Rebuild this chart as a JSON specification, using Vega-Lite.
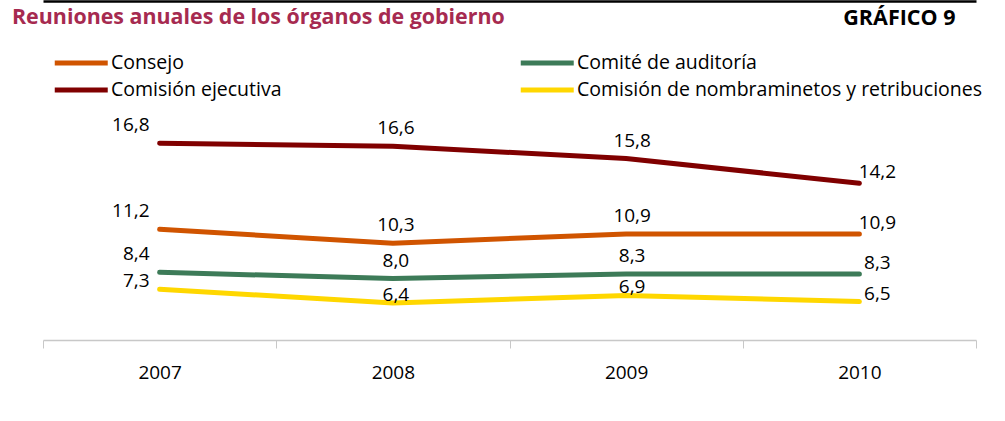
{
  "$schema": "https://vega.github.io/schema/vega-lite/v6.json",
  "width": 933,
  "height": 246,
  "autosize": {"type": "none"},
  "padding": {"left": 43, "top": 94, "right": 29, "bottom": 81},
  "background": "white",
  "config": {
    "view": {"stroke": null},
    "font": "Open Sans",
    "locale": {"number": {"decimal": ",", "thousands": ".", "grouping": [3], "currency": ["", " €"]}}
  },
  "title": {
    "text": "Reuniones anuales de los órganos de gobierno",
    "anchor": "start",
    "frame": "group",
    "color": "#A62A50",
    "fontSize": 21.4,
    "fontWeight": "bold",
    "font": "Open Sans",
    "offset": 0,
    "dx": -31,
    "dy": 27
  },
  "data": {
    "values": [
      {"year": "2007", "serie": "Consejo", "value": 11.2},
      {"year": "2008", "serie": "Consejo", "value": 10.3},
      {"year": "2009", "serie": "Consejo", "value": 10.9},
      {"year": "2010", "serie": "Consejo", "value": 10.9},
      {"year": "2007", "serie": "Comisión ejecutiva", "value": 16.8},
      {"year": "2008", "serie": "Comisión ejecutiva", "value": 16.6},
      {"year": "2009", "serie": "Comisión ejecutiva", "value": 15.8},
      {"year": "2010", "serie": "Comisión ejecutiva", "value": 14.2},
      {"year": "2007", "serie": "Comité de auditoría", "value": 8.4},
      {"year": "2008", "serie": "Comité de auditoría", "value": 8.0},
      {"year": "2009", "serie": "Comité de auditoría", "value": 8.3},
      {"year": "2010", "serie": "Comité de auditoría", "value": 8.3},
      {"year": "2007", "serie": "Comisión de nombraminetos y retribuciones", "value": 7.3},
      {"year": "2008", "serie": "Comisión de nombraminetos y retribuciones", "value": 6.4},
      {"year": "2009", "serie": "Comisión de nombraminetos y retribuciones", "value": 6.9},
      {"year": "2010", "serie": "Comisión de nombraminetos y retribuciones", "value": 6.5}
    ]
  },
  "layer": [
    {
      "mark": {"type": "line", "strokeWidth": 5, "strokeCap": "round", "strokeJoin": "round"},
      "encoding": {
        "x": {
          "field": "year",
          "type": "ordinal",
          "bandPosition": 0.5,
          "scale": {"type": "band", "paddingInner": 0, "paddingOuter": 0},
          "axis": {
            "orient": "bottom",
            "title": null,
            "tickBand": "extent",
            "domainColor": "#c8c8c8",
            "domainWidth": 1.5,
            "tickColor": "#c8c8c8",
            "tickWidth": 1,
            "tickSize": 8,
            "labelAngle": 0,
            "labelFontSize": 19,
            "labelFont": "Open Sans",
            "labelColor": "#000000",
            "labelPadding": 15,
            "grid": false
          }
        },
        "y": {
          "field": "value",
          "type": "quantitative",
          "scale": {"domain": [4, 20], "nice": false, "zero": false},
          "axis": {
            "orient": "right",
            "labels": false,
            "ticks": false,
            "domain": false,
            "grid": false,
            "title": "GRÁFICO 9",
            "titleAngle": 0,
            "titleAlign": "right",
            "titleBaseline": "middle",
            "titleX": -21,
            "titleY": -76,
            "titleFontSize": 21.5,
            "titleFont": "Open Sans",
            "titleFontWeight": "bold",
            "titleColor": "#000000"
          }
        },
        "color": {
          "field": "serie",
          "type": "nominal",
          "scale": {
            "domain": ["Consejo", "Comisión ejecutiva", "Comité de auditoría", "Comisión de nombraminetos y retribuciones"],
            "range": ["#D05400", "#800000", "#3D7B58", "#FFD700"]
          },
          "legend": {
            "title": null,
            "orient": "none",
            "legendX": 9,
            "legendY": -47,
            "columns": 2,
            "columnPadding": 228,
            "rowPadding": 1,
            "symbolType": "M-1,0H3",
            "symbolSize": 702,
            "symbolStrokeWidth": 5,
            "labelFontSize": 19.5,
            "labelFont": "Open Sans",
            "labelColor": "#000000",
            "labelOffset": 27,
            "labelLimit": 500
          }
        }
      }
    },
    {
      "mark": {
        "type": "text",
        "fontSize": 19,
        "font": "Open Sans",
        "color": "#000000",
        "baseline": "middle",
        "align": {"expr": "datum.year == '2007' ? 'right' : 'center'"},
        "dx": {"expr": "datum.year == '2007' ? -10 : datum.year == '2010' ? 18 : datum.year == '2009' ? 6 : 3"},
        "dy": {"expr": "datum.serie == 'Comisión de nombraminetos y retribuciones' ? -8 : datum.year == '2010' ? -11 : -18"}
      },
      "encoding": {
        "x": {
          "field": "year",
          "type": "ordinal",
          "bandPosition": 0.5,
          "axis": {
            "orient": "top",
            "title": null,
            "labels": false,
            "ticks": false,
            "grid": false,
            "domainColor": "#000000",
            "domainWidth": 2.5,
            "offset": 93
          }
        },
        "y": {"field": "value", "type": "quantitative"},
        "text": {"field": "value", "type": "quantitative", "format": ".1f"}
      }
    }
  ]
}
